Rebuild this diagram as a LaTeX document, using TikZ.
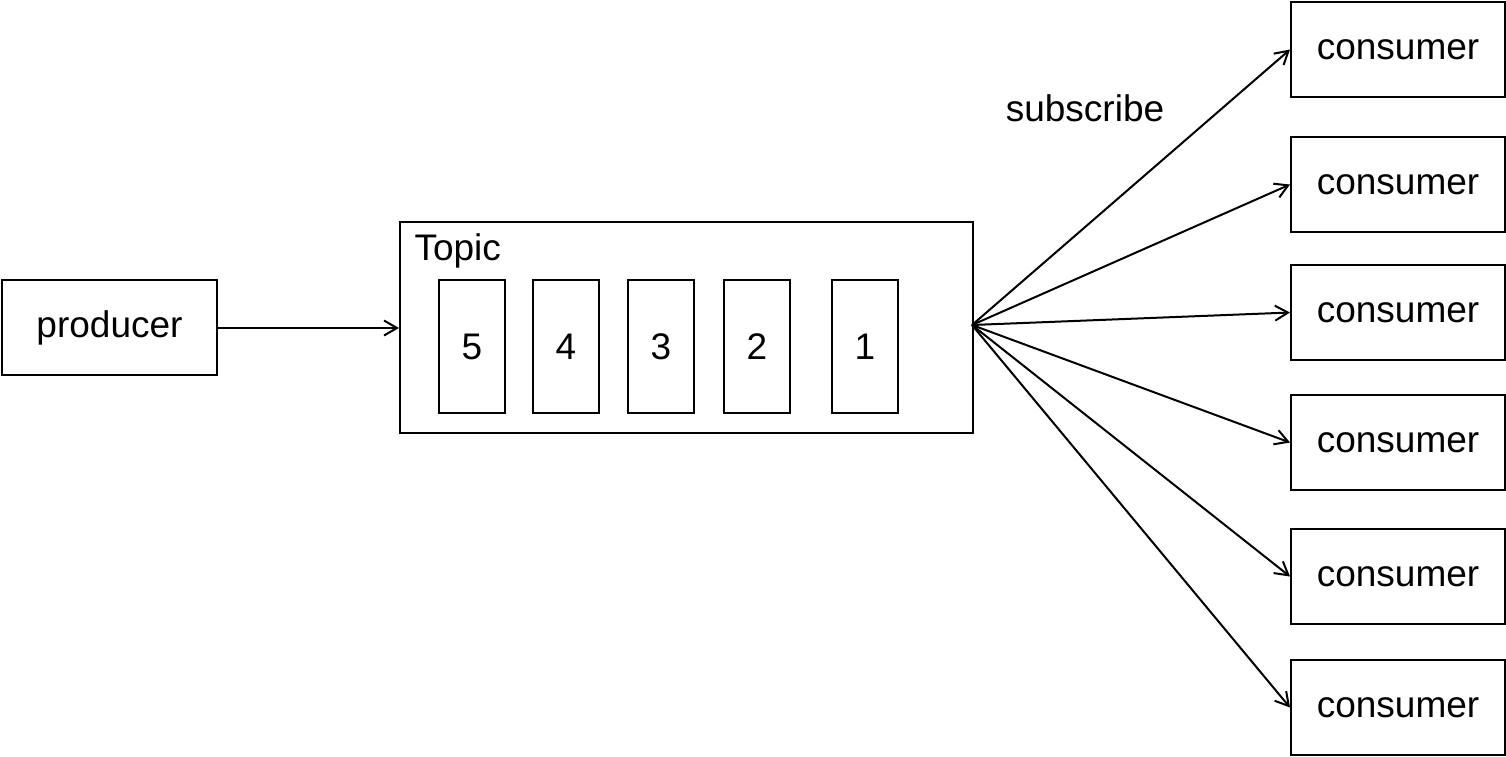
\documentclass[tikz,border=0pt]{standalone}
\usepackage{fontspec}
\setmainfont{Liberation Sans}
\usetikzlibrary{arrows.meta}
\begin{document}
\begin{tikzpicture}[x=1pt,y=-1pt,
  box/.style={draw,line width=2pt,rectangle,inner sep=0pt,anchor=north west},
  lbl/.style={font=\fontsize{37}{44}\selectfont},
  conn/.style={line width=2pt,-{Straight Barb[length=13pt,width=15pt,line width=2pt]}}]
\useasboundingbox (0,0) rectangle (1506,756);
\node[box,lbl,minimum width=215pt,minimum height=95pt] (prod) at (1,279) {producer};
\node[box,minimum width=573pt,minimum height=211pt] (topic) at (399,221) {};
\node[lbl,anchor=west] (topiclbl) at (411,251) {Topic};
\foreach \n/\x in {5/438,4/532,3/627,2/723,1/831}{
  \node[box,lbl,minimum width=66pt,minimum height=133pt] (p\n) at (\x,279) {\n};
}
\foreach \i/\y in {1/1,2/136,3/264,4/394,5/528,6/659}{
  \node[box,lbl,minimum width=214pt,minimum height=95pt] (c\i) at (1290,\y) {consumer};
}
\node[lbl] (sub) at (1085,108) {subscribe};
\coordinate (src) at (972,325);
\draw[conn] (prod.east |- 0,328) -- (topic.west |- 0,328);
\foreach \i in {1,...,6}{
  \draw[conn] (src) -- (c\i.west);
}
\end{tikzpicture}
\end{document}
